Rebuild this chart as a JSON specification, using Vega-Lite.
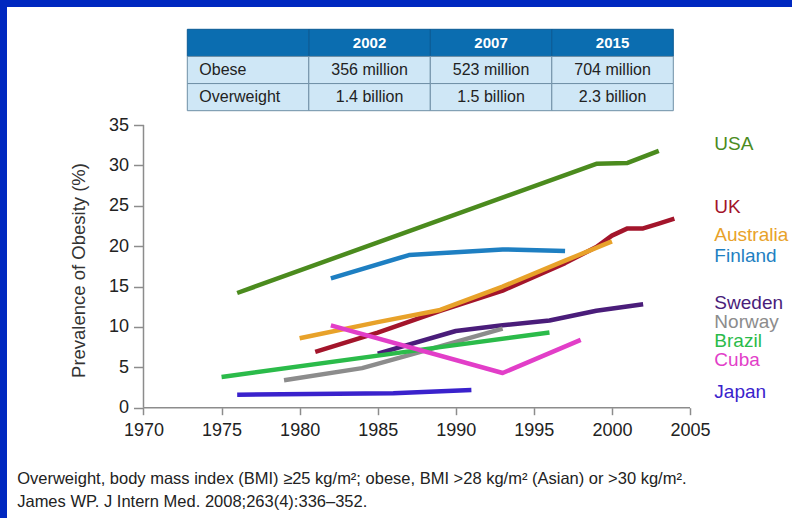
{
  "$schema": "https://vega.github.io/schema/vega-lite/v6.json",
  "width": 785,
  "height": 511,
  "autosize": {"type": "none"},
  "padding": {"left": 7, "top": 7, "right": 0, "bottom": 0},
  "background": "#0028c0",
  "config": {
    "font": "Liberation Sans",
    "view": {"fill": "white", "stroke": null}
  },
  "datasets": {
    "obesity": [
      {"country": "USA", "year": 1976, "prevalence": 14.2},
      {"country": "USA", "year": 1999, "prevalence": 30.2},
      {"country": "USA", "year": 2001, "prevalence": 30.3},
      {"country": "USA", "year": 2003, "prevalence": 31.8},
      {"country": "UK", "year": 1981, "prevalence": 6.9},
      {"country": "UK", "year": 1985, "prevalence": 9.3},
      {"country": "UK", "year": 1989, "prevalence": 12.0},
      {"country": "UK", "year": 1993, "prevalence": 14.5},
      {"country": "UK", "year": 1995, "prevalence": 16.2},
      {"country": "UK", "year": 1997, "prevalence": 17.9},
      {"country": "UK", "year": 1999, "prevalence": 19.9},
      {"country": "UK", "year": 2000, "prevalence": 21.3},
      {"country": "UK", "year": 2001, "prevalence": 22.2},
      {"country": "UK", "year": 2002, "prevalence": 22.2},
      {"country": "UK", "year": 2003, "prevalence": 22.8},
      {"country": "UK", "year": 2004, "prevalence": 23.4},
      {"country": "Australia", "year": 1980, "prevalence": 8.6},
      {"country": "Australia", "year": 1985, "prevalence": 10.6},
      {"country": "Australia", "year": 1989, "prevalence": 12.1},
      {"country": "Australia", "year": 1993, "prevalence": 15.0},
      {"country": "Australia", "year": 1997, "prevalence": 18.2},
      {"country": "Australia", "year": 2000, "prevalence": 20.6},
      {"country": "Finland", "year": 1982, "prevalence": 16.0},
      {"country": "Finland", "year": 1987, "prevalence": 18.9},
      {"country": "Finland", "year": 1993, "prevalence": 19.6},
      {"country": "Finland", "year": 1997, "prevalence": 19.4},
      {"country": "Sweden", "year": 1985, "prevalence": 6.7},
      {"country": "Sweden", "year": 1990, "prevalence": 9.5},
      {"country": "Sweden", "year": 1993, "prevalence": 10.2},
      {"country": "Sweden", "year": 1996, "prevalence": 10.8},
      {"country": "Sweden", "year": 1999, "prevalence": 12.0},
      {"country": "Sweden", "year": 2002, "prevalence": 12.8},
      {"country": "Norway", "year": 1979, "prevalence": 3.4},
      {"country": "Norway", "year": 1984, "prevalence": 4.9},
      {"country": "Norway", "year": 1987, "prevalence": 6.5},
      {"country": "Norway", "year": 1993, "prevalence": 9.8},
      {"country": "Brazil", "year": 1975, "prevalence": 3.8},
      {"country": "Brazil", "year": 1989, "prevalence": 7.5},
      {"country": "Brazil", "year": 1996, "prevalence": 9.3},
      {"country": "Cuba", "year": 1982, "prevalence": 10.2},
      {"country": "Cuba", "year": 1993, "prevalence": 4.3},
      {"country": "Cuba", "year": 1998, "prevalence": 8.4},
      {"country": "Japan", "year": 1976, "prevalence": 1.6},
      {"country": "Japan", "year": 1986, "prevalence": 1.8},
      {"country": "Japan", "year": 1991, "prevalence": 2.2}
    ],
    "labels": [
      {"country": "USA", "level": 32.7},
      {"country": "UK", "level": 24.9},
      {"country": "Australia", "level": 21.4},
      {"country": "Finland", "level": 18.8},
      {"country": "Sweden", "level": 13.0},
      {"country": "Norway", "level": 10.6},
      {"country": "Brazil", "level": 8.3},
      {"country": "Cuba", "level": 5.9},
      {"country": "Japan", "level": 2.0}
    ],
    "table": [
      {"row": "Header", "col": "2002", "text": "2002"},
      {"row": "Header", "col": "2007", "text": "2007"},
      {"row": "Header", "col": "2015", "text": "2015"},
      {"row": "Header", "col": "Measure", "text": ""},
      {"row": "Obese", "col": "Measure", "text": "Obese"},
      {"row": "Obese", "col": "2002", "text": "356 million"},
      {"row": "Obese", "col": "2007", "text": "523 million"},
      {"row": "Obese", "col": "2015", "text": "704 million"},
      {"row": "Overweight", "col": "Measure", "text": "Overweight"},
      {"row": "Overweight", "col": "2002", "text": "1.4 billion"},
      {"row": "Overweight", "col": "2007", "text": "1.5 billion"},
      {"row": "Overweight", "col": "2015", "text": "2.3 billion"}
    ]
  },
  "layer": [
    {
      "data": {"name": "table"},
      "encoding": {
        "x": {
          "field": "col", "type": "nominal", "axis": null,
          "scale": {"type": "band", "domain": ["Measure", "2002", "2007", "2015"], "paddingInner": 0, "paddingOuter": 0, "range": [180.3, 666.3]}
        },
        "y": {
          "field": "row", "type": "nominal", "axis": null,
          "scale": {"type": "band", "domain": ["Header", "Obese", "Overweight"], "paddingInner": 0, "paddingOuter": 0, "range": [22.3, 103.7]}
        }
      },
      "layer": [
        {
          "transform": [{"filter": "datum.row === 'Header'"}],
          "mark": {"type": "rect", "fill": "#0b6db0", "stroke": "#0a5a94", "strokeWidth": 1}
        },
        {
          "transform": [{"filter": "datum.row !== 'Header'"}],
          "mark": {"type": "rect", "fill": "#cfe7f6", "stroke": "#6f8fa6", "strokeWidth": 1}
        },
        {
          "transform": [{"filter": "datum.row === 'Header'"}],
          "mark": {"type": "text", "color": "white", "fontWeight": "bold", "fontSize": 15, "baseline": "middle"},
          "encoding": {"text": {"field": "text"}}
        },
        {
          "transform": [{"filter": "datum.row !== 'Header' && datum.col !== 'Measure'"}],
          "mark": {"type": "text", "color": "#222222", "fontSize": 16, "baseline": "middle"},
          "encoding": {"text": {"field": "text"}}
        },
        {
          "transform": [{"filter": "datum.row !== 'Header' && datum.col === 'Measure'"}],
          "mark": {"type": "text", "color": "#222222", "fontSize": 16, "baseline": "middle", "align": "left", "dx": 12},
          "encoding": {
            "x": {"field": "col", "type": "nominal", "bandPosition": 0},
            "text": {"field": "text"}
          }
        }
      ]
    },
    {
      "layer": [
        {
          "data": {"name": "obesity"},
          "mark": {"type": "line", "strokeWidth": 4.5, "strokeJoin": "round"},
          "encoding": {
            "x": {
              "field": "year", "type": "quantitative",
              "scale": {"domain": [1961.258, 2011.533], "nice": false, "zero": false},
              "axis": {
                "values": [1970, 1975, 1980, 1985, 1990, 1995, 2000, 2005],
                "format": "d",
                "offset": -110.3,
                "domain": false,
                "grid": false,
                "tickSize": 7,
                "tickColor": "#8c8c8c",
                "tickWidth": 1.5,
                "labelFontSize": 18,
                "labelColor": "#222222",
                "labelPadding": 7,
                "labelFlush": false,
                "labelOverlap": false,
                "title": [
                  "Overweight, body mass index (BMI) ≥25 kg/m²; obese, BMI >28 kg/m² (Asian) or >30 kg/m².",
                  "James WP. J Intern Med. 2008;263(4):336–352."
                ],
                "titleX": 9.7,
                "titleY": 75.3,
                "titleAnchor": "start",
                "titleAlign": "left",
                "titleBaseline": "alphabetic",
                "titleAngle": 0,
                "titleFontSize": 16.5,
                "titleFontWeight": "normal",
                "titleColor": "#222222",
                "titleLineHeight": 23
              }
            },
            "y": {
              "field": "prevalence", "type": "quantitative",
              "scale": {"domain": [-13.656, 49.61], "nice": false, "zero": false},
              "axis": {
                "values": [0, 5, 10, 15, 20, 25, 30, 35],
                "offset": -136.5,
                "domain": false,
                "grid": false,
                "tickSize": 10,
                "tickColor": "#8c8c8c",
                "tickWidth": 1.5,
                "labelFontSize": 18,
                "labelColor": "#222222",
                "labelPadding": 5,
                "labelFlush": false,
                "labelOverlap": false,
                "title": "Prevalence of Obesity (%)",
                "titleY": 263,
                "titleFontSize": 18.5,
                "titleFontWeight": "normal",
                "titleColor": "#333333",
                "titlePadding": 20
              }
            },
            "color": {
              "field": "country", "type": "nominal", "legend": null,
              "scale": {
                "domain": ["USA", "UK", "Australia", "Finland", "Sweden", "Norway", "Brazil", "Cuba", "Japan"],
                "range": ["#4b8b1e", "#a3152b", "#e8a22a", "#1e7fc2", "#4a1d7a", "#8c8c8c", "#2bbb4a", "#e23ec8", "#3a22cc"]
              }
            },
            "order": {"field": "year"}
          }
        },
        {
          "data": {"values": [{}]},
          "mark": {"type": "rule", "color": "#8c8c8c", "strokeWidth": 1.5},
          "encoding": {"x": {"datum": 1970}, "x2": {"datum": 2005}, "y": {"datum": 0}}
        },
        {
          "data": {"values": [{}]},
          "mark": {"type": "rule", "color": "#8c8c8c", "strokeWidth": 1.5},
          "encoding": {"x": {"datum": 1970}, "y": {"datum": 0}, "y2": {"datum": 35}}
        },
        {
          "data": {"name": "labels"},
          "mark": {"type": "text", "align": "left", "baseline": "middle", "fontSize": 19},
          "encoding": {
            "x": {"datum": 2006.56},
            "y": {"field": "level", "type": "quantitative"},
            "color": {"field": "country", "type": "nominal"},
            "text": {"field": "country"}
          }
        }
      ]
    }
  ],
  "resolve": {"scale": {"x": "independent", "y": "independent"}}
}
